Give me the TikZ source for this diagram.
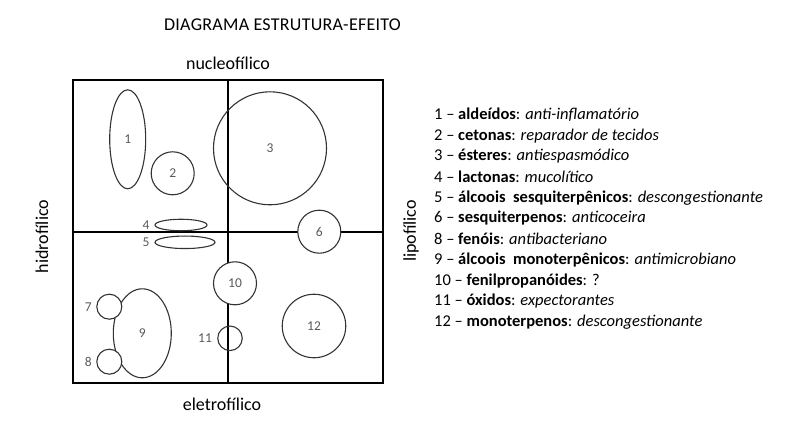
\documentclass[tikz,border=0pt]{standalone}
\usepackage{fontspec}
\setmainfont{Carlito}
\usetikzlibrary{shapes.geometric}
\begin{document}
\begin{tikzpicture}[x=1pt,y=-1pt,
  frame/.style={line width=1.7pt,draw=black},
  blob/.style={ellipse,draw=black!80,line width=1.1pt,inner sep=0pt,text=black!65,font=\fontsize{13.5}{15}\selectfont},
  wblob/.style={blob,fill=white},
  numlbl/.style={text=black!65,font=\fontsize{13.5}{15}\selectfont,inner sep=0pt},
  axis/.style={font=\fontsize{18}{20}\selectfont,inner sep=0pt},
  leg/.style={font=\fontsize{16.5}{19}\selectfont,anchor=west,inner sep=0pt}]
\useasboundingbox (0,0) rectangle (798,430);
% title and axis labels
\node[axis] (title) at (282.5,25) {\addfontfeatures{LetterSpace=1.5}DIAGRAMA ESTRUTURA-EFEITO};
\node[axis] (nuc) at (228,63) {nucleofílico};
\node[axis] (ele) at (222,404) {eletrofílico};
\node[axis,rotate=90] (hid) at (42,236.5) {hidrofílico};
\node[axis,rotate=90] (lip) at (411,231) {lipofílico};
% frame
\coordinate (tl) at (72.7,80);
\coordinate (br) at (382.7,383.3);
\coordinate (tm) at (227.7,80);
\coordinate (bm) at (227.7,383.3);
\coordinate (ml) at (72.7,231.7);
\coordinate (mr) at (382.7,231.7);
\draw[frame] (tl) rectangle (br);
\draw[frame] (tm) -- (bm);
\draw[frame] (ml) -- (mr);
% shapes
\node[blob,minimum width=36pt,minimum height=99pt] (s1) at (127.7,139.3) {1};
\node[blob,minimum width=43pt,minimum height=43pt] (s2) at (172.7,173.3) {2};
\node[blob,minimum width=113pt,minimum height=113pt] (s3) at (270,148.3) {3};
\node[blob,minimum width=52pt,minimum height=11.5pt] (s4) at (181,225) {};
\node[numlbl] (l4) at (146,225) {4};
\node[blob,minimum width=60pt,minimum height=12.5pt] (s5) at (185,242.3) {};
\node[numlbl] (l5) at (146,242.3) {5};
\node[wblob,minimum width=43pt,minimum height=43pt] (s6) at (319.3,231.7) {6};
\node[wblob,minimum width=43pt,minimum height=43pt] (s10) at (235,283.3) {10};
\node[blob,minimum width=58pt,minimum height=89pt] (s9) at (142.3,333.3) {9};
\node[wblob,minimum width=25pt,minimum height=25pt] (s7) at (109.3,306.7) {};
\node[numlbl] (l7) at (88.3,306.7) {7};
\node[wblob,minimum width=25pt,minimum height=25pt] (s8) at (109.3,361.7) {};
\node[numlbl] (l8) at (88.3,361.7) {8};
\node[blob,minimum width=24.5pt,minimum height=24.5pt] (s11) at (230,338.3) {};
\node[numlbl] (l11) at (205,338.3) {11};
\node[blob,minimum width=63.5pt,minimum height=63.5pt] (s12) at (314,326) {12};
% legend
\node[leg] (g1)  at (434,115.0) {1 – \textbf{aldeídos}: \textit{anti-inflamatório}};
\node[leg] (g2)  at (434,135.7) {2 – \textbf{cetonas}: \textit{reparador de tecidos}};
\node[leg] (g3)  at (434,156.4) {3 – \textbf{ésteres}: \textit{antiespasmódico}};
\node[leg] (g4)  at (434,177.1) {4 – \textbf{lactonas}: \textit{mucolítico}};
\node[leg] (g5)  at (434,197.8) {5 – \textbf{álcoois\ \ sesquiterpênicos}: \textit{descongestionante}};
\node[leg] (g6)  at (434,218.5) {6 – \textbf{sesquiterpenos}: \textit{anticoceira}};
\node[leg] (g8)  at (434,239.2) {8 – \textbf{fenóis}: \textit{antibacteriano}};
\node[leg] (g9)  at (434,259.9) {9 – \textbf{álcoois\ \ monoterpênicos}: \textit{antimicrobiano}};
\node[leg] (g10) at (434,280.6) {10 – \textbf{fenilpropanóides}: ?};
\node[leg] (g11) at (434,301.3) {11 – \textbf{óxidos}: \textit{expectorantes}};
\node[leg] (g12) at (434,322.0) {12 – \textbf{monoterpenos}: \textit{descongestionante}};
\end{tikzpicture}
\end{document}
